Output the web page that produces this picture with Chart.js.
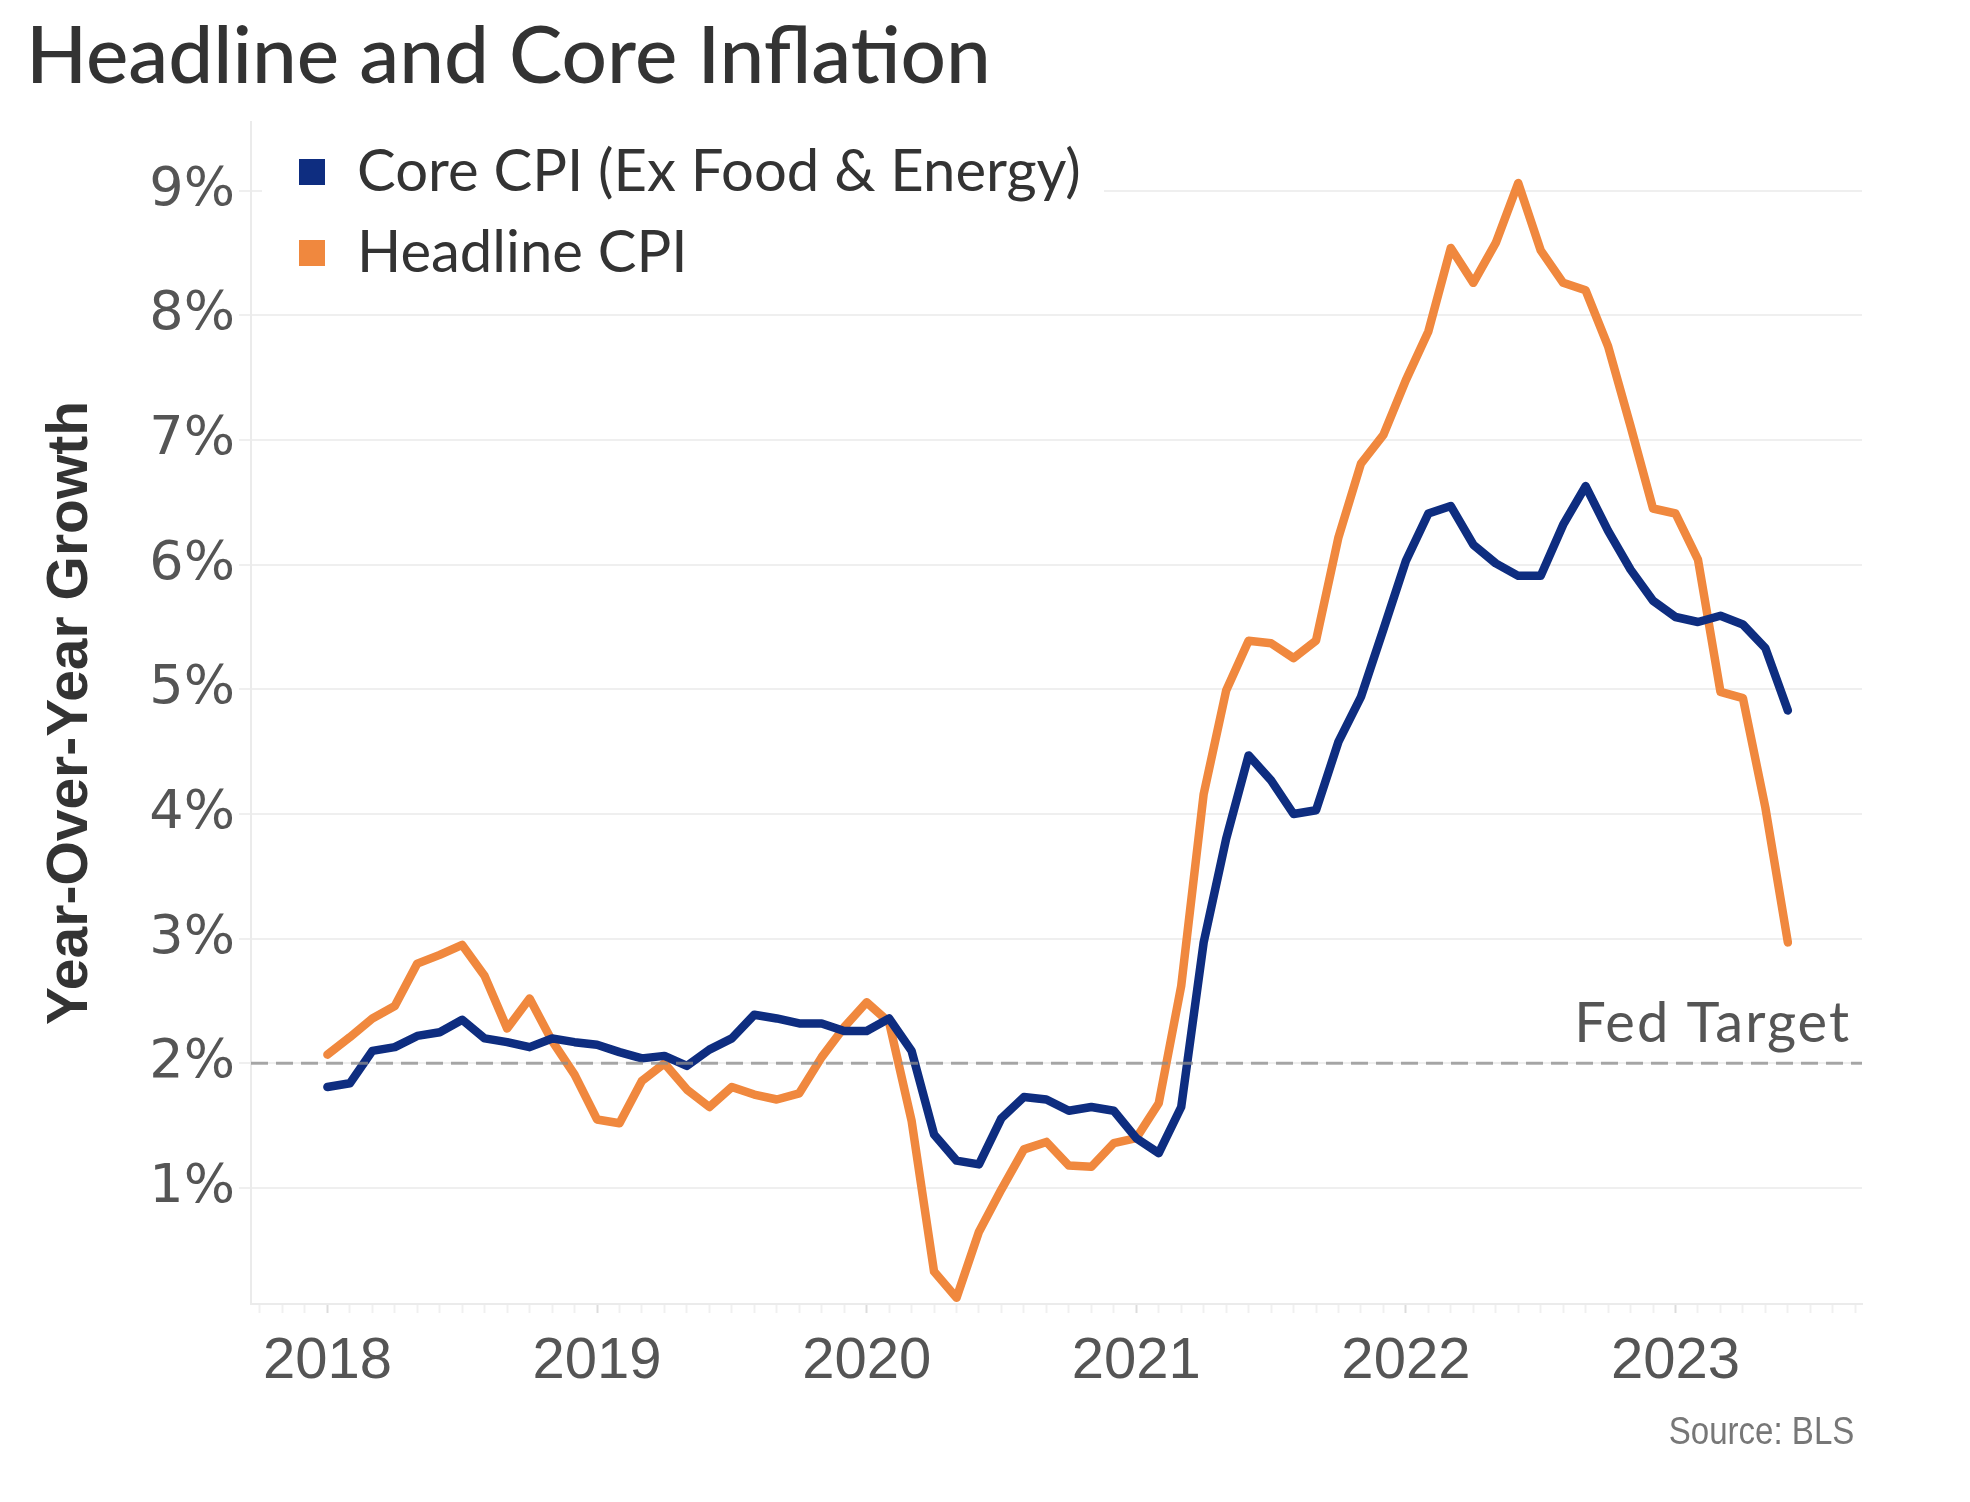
<!DOCTYPE html>
<html>
<head>
<meta charset="utf-8">
<title>Headline and Core Inflation</title>
<script src="https://cdn.jsdelivr.net/npm/chart.js@4.4.1/dist/chart.umd.min.js"></script>
<style>
  html, body { margin: 0; padding: 0; background: #fff; }
  body { width: 1970px; height: 1502px; position: relative; overflow: hidden; }
  #title {
    position: absolute; left: 26px; top: 12px;
    font: 500 80px Lato, "Open Sans", sans-serif; line-height: 1;
    color: #333; white-space: nowrap;
  }
  #wrap { position: absolute; left: 0; top: 0; width: 1970px; height: 1502px; }
  #source {
    position: absolute; right: 116px; top: 1410px;
    font: 38px "Liberation Sans Narrow", "Liberation Sans", sans-serif;
    color: #777; white-space: nowrap;
    transform: scaleX(0.87); transform-origin: right center;
  }
</style>
</head>
<body>
<div id="title">Headline and Core Inflation</div>
<div id="wrap"><canvas id="chart"></canvas></div>
<div id="source">Source: BLS</div>

<script>
/* ---------- data (monthly YoY %, Jan 2018 – Jun 2023) ---------- */
const YEARS = ["2018", "2019", "2020", "2021", "2022", "2023"];
const Y_TICKS = [1, 2, 3, 4, 5, 6, 7, 8, 9];
const FED_TARGET = 2;

const coreCPI = [
  1.81, 1.84, 2.10, 2.13, 2.22, 2.25, 2.35, 2.20, 2.17, 2.13, 2.20, 2.17,
  2.15, 2.09, 2.04, 2.06, 1.98, 2.11, 2.20, 2.39, 2.36, 2.32, 2.32, 2.26,
  2.26, 2.36, 2.10, 1.43, 1.22, 1.19, 1.56, 1.73, 1.71, 1.62, 1.65, 1.62,
  1.40, 1.28, 1.65, 2.97, 3.80, 4.47, 4.27, 4.00, 4.03, 4.58, 4.94, 5.48,
  6.03, 6.41, 6.47, 6.16, 6.01, 5.91, 5.91, 6.32, 6.63, 6.27, 5.96, 5.71,
  5.58, 5.54, 5.59, 5.52, 5.33, 4.83
];

const headlineCPI = [
  2.07, 2.21, 2.36, 2.46, 2.80, 2.87, 2.95, 2.70, 2.28, 2.52, 2.18, 1.91,
  1.55, 1.52, 1.86, 2.00, 1.79, 1.65, 1.81, 1.75, 1.71, 1.76, 2.05, 2.29,
  2.49, 2.33, 1.54, 0.33, 0.12, 0.65, 0.99, 1.31, 1.37, 1.18, 1.17, 1.36,
  1.40, 1.68, 2.62, 4.16, 4.99, 5.39, 5.37, 5.25, 5.39, 6.22, 6.81, 7.04,
  7.48, 7.87, 8.54, 8.26, 8.58, 9.06, 8.52, 8.26, 8.20, 7.75, 7.11, 6.45,
  6.41, 6.04, 4.98, 4.93, 4.05, 2.97
];

const NAVY = "#0e2d80";
const ORANGE = "#f0883e";

// x is the month offset from Jan 2018
const toPoints = (arr) => arr.map((v, i) => ({ x: i, y: v }));

/* ---------- plugins ---------- */
const fedTarget = {
  id: "fedTarget",
  afterDatasetsDraw(chart) {
    const { ctx, chartArea } = chart;
    const y = chart.scales.y.getPixelForValue(FED_TARGET);
    ctx.save();
    ctx.strokeStyle = "rgba(140,140,140,0.75)";
    ctx.lineWidth = 3;
    ctx.setLineDash([17, 8]);
    ctx.beginPath();
    ctx.moveTo(chartArea.left, y);
    ctx.lineTo(chartArea.right, y);
    ctx.stroke();
    ctx.setLineDash([]);
    ctx.fillStyle = "#555";
    ctx.font = "56px Lato, 'Open Sans', sans-serif";
    ctx.letterSpacing = "2px";
    ctx.textAlign = "right";
    ctx.textBaseline = "alphabetic";
    ctx.fillText("Fed Target", chartArea.right - 11, y - 21);
    ctx.restore();
  },
};

const insideLegend = {
  id: "insideLegend",
  afterDraw(chart) {
    const ctx = chart.ctx;
    ctx.save();
    ctx.fillStyle = "#fff";
    ctx.fillRect(262, 126, 842, 160);
    ctx.font = "58px Lato, 'Open Sans', sans-serif";
    ctx.textBaseline = "middle";
    chart.data.datasets.forEach((ds, i) => {
      const y = 172 + i * 81;
      ctx.fillStyle = ds.borderColor;
      ctx.fillRect(299, y - 13, 26, 26);
      ctx.fillStyle = "#333";
      ctx.fillText(ds.label, 357, y);
    });
    ctx.restore();
  },
};

/* ---------- chart ---------- */
new Chart(document.getElementById("chart"), {
  type: "line",
  data: {
    datasets: [
      {
        label: "Core CPI (Ex Food & Energy)",
        data: toPoints(coreCPI),
        borderColor: NAVY,
        borderWidth: 8.5,
        pointRadius: 0,
        tension: 0,
        borderJoinStyle: "round",
        borderCapStyle: "round",
      },
      {
        label: "Headline CPI",
        data: toPoints(headlineCPI),
        borderColor: ORANGE,
        borderWidth: 8.5,
        pointRadius: 0,
        tension: 0,
        borderJoinStyle: "round",
        borderCapStyle: "round",
      },
    ],
  },
  options: {
    responsive: true,
    maintainAspectRatio: false,
    animation: false,
    layout: { padding: { top: 122, right: 108, left: 0, bottom: 0 } },
    plugins: { legend: { display: false }, tooltip: { enabled: false } },
    scales: {
      x: {
        type: "linear",
        min: -3.4,
        max: 68.3,
        afterFit(scale) { scale.height = 198; },
        afterBuildTicks(scale) {
          const t = [];
          for (let m = -3; m <= 68; m++) t.push({ value: m });
          scale.ticks = t;
        },
        grid: {
          drawOnChartArea: false,
          drawTicks: true,
          tickLength: 9,
          tickWidth: 2,
          tickColor: (c) => (c.tick && c.tick.value % 12 === 0 ? "#dcdcdc" : "#f0f0f0"),
        },
        border: { display: true, color: "#ebebeb", width: 2 },
        ticks: {
          autoSkip: false,
          maxRotation: 0,
          padding: 14,
          color: "#555",
          font: { family: "'Liberation Sans', Arial, sans-serif", size: 58 },
          callback: (v) => (v >= 0 && v % 12 === 0 ? YEARS[v / 12] : ""),
        },
      },
      y: {
        min: 0.07,
        max: 9.55,
        afterFit(scale) { scale.width = 251; },
        afterBuildTicks(scale) {
          scale.ticks = Y_TICKS.map((v) => ({ value: v }));
        },
        grid: {
          color: "#efefef",
          lineWidth: 2,
          drawTicks: true,
          tickLength: 12,
        },
        border: { display: true, color: "#ebebeb", width: 2 },
        ticks: {
          padding: 4,
          color: "#555",
          font: { family: "'DejaVu Sans', sans-serif", size: 54 },
          callback: (v) => v + "%",
        },
        title: {
          display: true,
          text: "Year-Over-Year Growth",
          color: "#333",
          padding: { top: 37, bottom: 0 },
          font: { family: "'Liberation Sans Narrow', 'Liberation Sans', sans-serif", size: 57, weight: "bold" },
        },
      },
    },
  },
  plugins: [fedTarget, insideLegend],
});
</script>
</body>
</html>
